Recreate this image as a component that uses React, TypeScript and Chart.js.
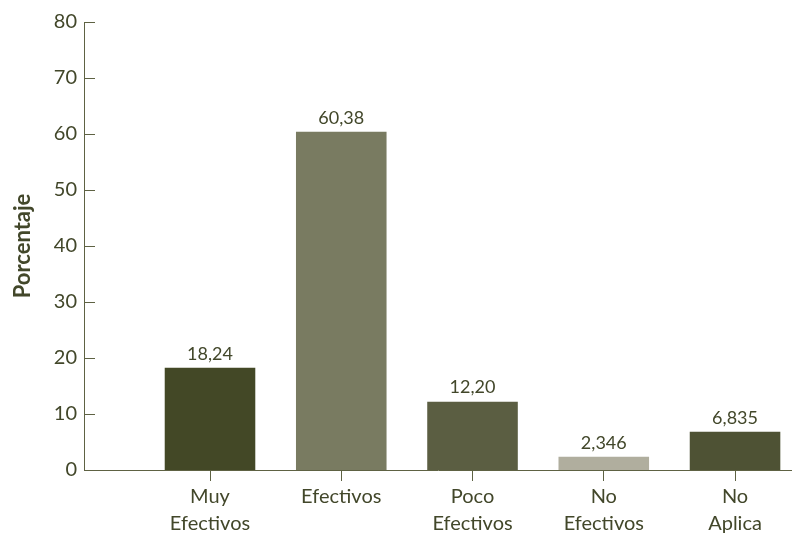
import React, { useEffect, useRef } from "react";
import { Chart, registerables } from "chart.js";

Chart.register(...registerables);

const categories: string[][] = [
  ["Muy", "Efectivos"],
  ["Efectivos"],
  ["Poco", "Efectivos"],
  ["No", "Efectivos"],
  ["No", "Aplica"],
];
const positions = [1, 2, 3, 4, 5];
const values = [18.24, 60.38, 12.2, 2.346, 6.835];
const valueLabels = ["18,24", "60,38", "12,20", "2,346", "6,835"];
const barColors = ["#434826", "#797b61", "#5b5e42", "#b0ae9e", "#4e5234"];
const yAxisTitle = "Porcentaje";

const TEXT = "#42472a";
const AXIS = "#5e6243";
const FONT = "Lato, 'Open Sans', sans-serif";

const inwardTicks = {
  id: "inwardTicks",
  afterDraw(chart: any) {
    const { ctx, chartArea } = chart;
    const y = chart.scales.y;
    ctx.save();
    ctx.strokeStyle = AXIS;
    ctx.lineWidth = 1;
    y.ticks.forEach((t: any) => {
      const py = Math.round(y.getPixelForValue(t.value)) + 0.5;
      ctx.beginPath();
      ctx.moveTo(chartArea.left, py);
      ctx.lineTo(chartArea.left + 11, py);
      ctx.stroke();
    });
    ctx.restore();
  },
};

const valueLabelPlugin = {
  id: "valueLabels",
  afterDatasetsDraw(chart: any) {
    const { ctx } = chart;
    const meta = chart.getDatasetMeta(0);
    ctx.save();
    ctx.fillStyle = TEXT;
    ctx.font = `18px ${FONT}`;
    ctx.textAlign = "center";
    ctx.textBaseline = "bottom";
    meta.data.forEach((el: any, i: number) => {
      ctx.fillText(valueLabels[i], el.x, el.y - 5);
    });
    ctx.restore();
  },
};

export default function App() {
  const canvasRef = useRef<HTMLCanvasElement | null>(null);

  useEffect(() => {
    if (!canvasRef.current) return;
    const chart = new Chart(canvasRef.current, {
      type: "bar",
      data: {
        datasets: [
          {
            data: positions.map((p, i) => ({ x: p, y: values[i] })),
            backgroundColor: barColors,
            borderWidth: 0,
            barPercentage: 0.69,
            categoryPercentage: 1,
          },
        ],
      },
      options: {
        animation: false,
        responsive: true,
        maintainAspectRatio: false,
        layout: { padding: { top: 22, right: 0, left: 0, bottom: 0 } },
        plugins: {
          legend: { display: false },
          tooltip: { enabled: false },
        },
        scales: {
          x: {
            type: "linear",
            min: 0.04,
            max: 5.434,
            offset: false,
            afterBuildTicks: (scale: any) => {
              scale.ticks = positions.map((p) => ({ value: p }));
            },
            afterFit: (scale: any) => {
              scale.height = 65;
            },
            grid: {
              display: true,
              offset: false,
              drawOnChartArea: false,
              drawTicks: true,
              tickLength: 11,
              color: AXIS,
              lineWidth: 1,
            },
            border: { display: true, color: AXIS, width: 1 },
            ticks: {
              color: TEXT,
              padding: 2,
              maxRotation: 0,
              autoSkip: false,
              font: { family: FONT, size: 20, lineHeight: 1.35 },
              callback: (v: any) => categories[Number(v) - 1] ?? "",
            },
          },
          y: {
            min: 0,
            max: 80,
            afterFit: (scale: any) => {
              scale.width = 84;
            },
            grid: { display: false, drawTicks: false },
            border: { display: true, color: AXIS, width: 1 },
            ticks: {
              stepSize: 10,
              color: TEXT,
              padding: 7,
              font: { family: FONT, size: 20 },
            },
            title: {
              display: true,
              text: yAxisTitle,
              color: TEXT,
              font: { family: FONT, size: 22, weight: "bold" },
              padding: { top: 10, bottom: 0 },
            },
          },
        },
      },
      plugins: [inwardTicks, valueLabelPlugin],
    });
    return () => chart.destroy();
  }, []);

  return (
    <div style={{ position: "fixed", left: 0, top: 0, width: 792, height: 535, background: "#fff" }}>
      <canvas ref={canvasRef} />
    </div>
  );
}
